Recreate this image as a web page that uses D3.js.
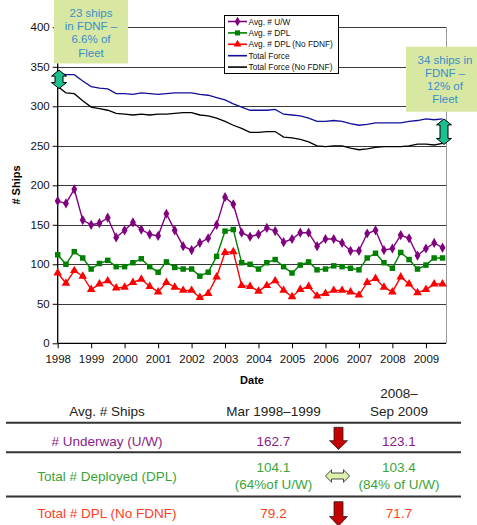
<!DOCTYPE html>
<html>
<head>
<meta charset="utf-8">
<script src="https://cdn.jsdelivr.net/npm/d3@7"></script>
<style>
  body { margin: 0; background: #fff; }
  svg { display: block; font-family: "Liberation Sans", Arial, sans-serif; }
</style>
</head>
<body>
<svg id="chart" width="477" height="525"></svg>
<script>
// ---------- DATA ----------
const dates = [
  "1998-01","1998-04","1998-07","1998-10","1999-01","1999-04","1999-07","1999-10",
  "2000-01","2000-04","2000-07","2000-10","2001-01","2001-04","2001-07","2001-10",
  "2002-01","2002-04","2002-07","2002-10","2003-01","2003-04","2003-07","2003-10",
  "2004-01","2004-04","2004-07","2004-10","2005-01","2005-04","2005-07","2005-10",
  "2006-01","2006-04","2006-07","2006-10","2007-01","2007-04","2007-07","2007-10",
  "2008-01","2008-04","2008-07","2008-10","2009-01","2009-04","2009-07"
];
const avgUW = [180,177,195,156,150,152,159,134,143,153,144,138,136,164,143,123,
  118,127,133,150,185,176,140,135,138,146,142,128,132,140,140,123,
  132,132,127,117,117,139,143,118,120,137,133,111,120,127,121];
const avgDPL = [112,100,116,108,94,101,105,97,97,102,107,97,90,103,96,94,
  94,85,90,110,142,144,102,100,94,102,106,97,89,99,103,93,
  94,98,97,95,93,108,114,102,95,115,106,94,99,108,108];
const avgDPLNoFDNF = [89,76,92,85,68,75,79,70,71,77,81,72,65,77,71,67,
  67,58,63,84,115,116,73,72,66,73,79,67,59,68,72,60,
  63,67,67,65,61,77,82,71,65,84,75,64,68,75,75];
const totalForce = [342,340,340,332,325,323,322,316,316,315,317,316,315,316,317,317,
  317,315,314,311,308,303,299,295,295,295,296,290,289,288,285,281,
  281,282,281,278,276,277,279,279,279,279,281,282,284,283,284];
const totalForceNoFDNF = [325,317,316,307,299,297,295,291,290,289,290,289,290,290,291,292,
  292,289,288,285,281,276,272,267,267,268,268,261,260,258,255,250,
  249,250,250,247,245,246,248,249,249,249,250,252,252,251,253];
const yTicks = [0,50,100,150,200,250,300,350,400];
const seriesNames = ["Avg. # U/W","Avg. # DPL","Avg. # DPL (No FDNF)","Total Force","Total Force (No FDNF)"];
const leftNote = ["23 ships","in FDNF \u2013","6.6% of","Fleet"];
const rightNote = ["34 ships in","FDNF \u2013","12% of","Fleet"];
const tableHeader = ["Avg. # Ships","Mar 1998\u20131999","2008\u2013","Sep 2009"];
const tableRows = [
  {label:"# Underway (U/W)", a:["162.7"], b:["123.1"], change:"down"},
  {label:"Total # Deployed (DPL)", a:["104.1","(64%of U/W)"], b:["103.4","(84% of U/W)"], change:"same"},
  {label:"Total # DPL (No FDNF)", a:["79.2"], b:["71.7"], change:"down"}
];

// ---------- SETUP ----------
const svg = d3.select("#chart");
const parse = d3.timeParse("%Y-%m");
const dts = dates.map(parse);
const x = d3.scaleTime().domain([new Date(1998,0,1), new Date(2009,7,8)]).range([57.7, 446]);
const y = d3.scaleLinear().domain([0,400]).range([343.3, 27.3]);
const colors = { uw:"#800080", dpl:"#008000", dplNo:"#ff0000", tf:"#10109a", tfNo:"#000000" };

// gridlines
svg.append("g").selectAll("line").data(yTicks.filter(d=>d>0)).join("line")
  .attr("x1", x.range()[0]).attr("x2", x.range()[1])
  .attr("y1", d=>Math.round(y(d))+0.5).attr("y2", d=>Math.round(y(d))+0.5)
  .attr("stroke", "#3a3a3a").attr("stroke-width", 1);
// right border
svg.append("line").attr("x1", x.range()[1]+0.5).attr("x2", x.range()[1]+0.5)
  .attr("y1", y(400)).attr("y2", y(0)).attr("stroke", "#999");

// axes
const yAxis = svg.append("g").attr("transform", `translate(${x.range()[0]},0)`)
  .call(d3.axisLeft(y).tickValues(yTicks).tickSize(5).tickPadding(3));
const xAxis = svg.append("g").attr("transform", `translate(0,${y(0)})`)
  .call(d3.axisBottom(x).ticks(d3.timeYear.every(1)).tickFormat(d3.timeFormat("%Y")).tickSize(5).tickPadding(7));
[yAxis, xAxis].forEach(g => {
  g.selectAll("path.domain").attr("stroke", "#000").attr("stroke-width", 1.3);
  g.selectAll(".tick line").attr("stroke", "#000");
  g.selectAll("text").attr("font-size", 11.5).attr("fill", "#111")
    .attr("font-family", "Liberation Sans, Arial, sans-serif");
});
xAxis.select("path.domain").attr("d", `M${x.range()[0]},0H${x.range()[1]}`);
yAxis.select("path.domain").attr("d", `M0,${y(0)}V${y(400)}`);

// axis titles
svg.append("text").attr("x", 252).attr("y", 384).attr("text-anchor","middle")
  .attr("font-size", 11).attr("font-weight","bold").text("Date");
svg.append("text").attr("transform","translate(20,185) rotate(-90)").attr("text-anchor","middle")
  .attr("font-size", 11).attr("font-weight","bold").text("# Ships");

// lines
const line = vals => d3.line().x((d,i)=>x(dts[i])).y(d=>y(d))(vals);
svg.append("path").attr("d", line(totalForce)).attr("fill","none").attr("stroke", colors.tf).attr("stroke-width",1.3);
svg.append("path").attr("d", line(totalForceNoFDNF)).attr("fill","none").attr("stroke", colors.tfNo).attr("stroke-width",1.3);

function markerSeries(vals, color, sym, size) {
  svg.append("path").attr("d", line(vals)).attr("fill","none").attr("stroke", color).attr("stroke-width",1.4);
  svg.append("g").selectAll("path").data(vals).join("path")
    .attr("transform", (d,i)=>`translate(${x(dts[i])},${y(d)})`)
    .attr("d", d3.symbol().type(sym).size(size)).attr("fill", color);
}
markerSeries(avgUW, colors.uw, d3.symbolDiamond, 30);
markerSeries(avgDPL, colors.dpl, d3.symbolSquare, 30);
markerSeries(avgDPLNoFDNF, colors.dplNo, d3.symbolTriangle, 32);

// legend
const lg = svg.append("g");
lg.append("rect").attr("x",224.5).attr("y",15.5).attr("width",114).attr("height",58)
  .attr("fill","#fff").attr("stroke","#000");
const legendItems = [
  {c:colors.uw, s:d3.symbolDiamond}, {c:colors.dpl, s:d3.symbolSquare},
  {c:colors.dplNo, s:d3.symbolTriangle}, {c:colors.tf, s:null}, {c:colors.tfNo, s:null}
];
legendItems.forEach((it,i) => {
  const yy = 21.5 + i*11.4;
  lg.append("line").attr("x1",228).attr("x2",247).attr("y1",yy).attr("y2",yy)
    .attr("stroke",it.c).attr("stroke-width",1.6);
  if (it.s) lg.append("path").attr("transform",`translate(237.5,${yy})`)
    .attr("d", d3.symbol().type(it.s).size(26)).attr("fill", it.c);
  lg.append("text").attr("x",248.5).attr("y",yy+3).attr("font-size",8.3).attr("fill","#111")
    .text(seriesNames[i]);
});

// annotation boxes
function noteBox(x0, y0, w, h, cx, lines, y1) {
  svg.append("rect").attr("x",x0).attr("y",y0).attr("width",w).attr("height",h).attr("fill","#d8e7a2");
  lines.forEach((t,i)=> svg.append("text").attr("x",cx).attr("y",y1 + i*13.3)
    .attr("text-anchor","middle").attr("font-size",11.5).attr("fill","#3a8fc8").text(t));
}
noteBox(54, 0, 74, 63.5, 91, leftNote, 16.8);
noteBox(406, 46.7, 80, 65, 445, rightNote, 63.5);

// double vertical arrows
function vArrow(cx, yTop, yBot) {
  const hw = 7.5, sw = 4, hh = 6;
  const p = `M${cx},${yTop} L${cx+hw},${yTop+hh} L${cx+sw},${yTop+hh} L${cx+sw},${yBot-hh} L${cx+hw},${yBot-hh}
    L${cx},${yBot} L${cx-hw},${yBot-hh} L${cx-sw},${yBot-hh} L${cx-sw},${yTop+hh} L${cx-hw},${yTop+hh} Z`;
  svg.append("path").attr("d",p).attr("fill","#1cc08e").attr("stroke","#000").attr("stroke-width",1);
}
vArrow(59, y(totalForce[0])-3, y(totalForceNoFDNF[0])+2);
vArrow(444, y(totalForce[totalForce.length-1]), y(totalForceNoFDNF[totalForceNoFDNF.length-1])+1);

// ---------- TABLE ----------
const colX = [107, 273.5, 399];
const tfont = 13.5;
svg.append("text").attr("x",colX[0]).attr("y",415.5).attr("text-anchor","middle").attr("font-size",tfont).attr("fill","#222").text(tableHeader[0]);
svg.append("text").attr("x",colX[1]).attr("y",415.5).attr("text-anchor","middle").attr("font-size",tfont).attr("fill","#222").text(tableHeader[1]);
svg.append("text").attr("x",colX[2]).attr("y",398).attr("text-anchor","middle").attr("font-size",tfont).attr("fill","#222").text(tableHeader[2]);
svg.append("text").attr("x",colX[2]).attr("y",415.5).attr("text-anchor","middle").attr("font-size",tfont).attr("fill","#222").text(tableHeader[3]);

[422.7, 452.3, 496.5].forEach(yy => svg.append("line").attr("x1",6).attr("x2",461)
  .attr("y1",yy).attr("y2",yy).attr("stroke","#333").attr("stroke-width",2));

const rowColors = ["#8a1c8a", "#3aa53a", "#ff3c1c"];
const rowCenters = [440.7, 475.7, 513.3];
tableRows.forEach((r,i) => {
  const cy = rowCenters[i];
  svg.append("text").attr("x",colX[0]).attr("y",cy+4.8).attr("text-anchor","middle")
    .attr("font-size",tfont).attr("fill",rowColors[i]).text(r.label);
  [r.a, r.b].forEach((vals,j) => {
    const start = cy + 4.8 - (vals.length-1)*8.3;
    vals.forEach((v,k) => svg.append("text").attr("x",colX[j+1]).attr("y",start + k*16.6)
      .attr("text-anchor","middle").attr("font-size",tfont).attr("fill",rowColors[i]).text(v));
  });
});

function downArrow(cx, yTop, yHead, yTip) {
  const p = `M${cx-4.5},${yTop} L${cx+4.5},${yTop} L${cx+4.5},${yHead} L${cx+9},${yHead} L${cx},${yTip}
    L${cx-9},${yHead} L${cx-4.5},${yHead} Z`;
  svg.append("path").attr("d",p).attr("fill","#c40000").attr("stroke","#222").attr("stroke-width",0.8);
}
downArrow(338.5, 427.3, 440.7, 449.5);
downArrow(338.5, 501.7, 516.5, 526);

// horizontal double arrow
(function(){
  const x0 = 325.5, x1 = 349.5, cy = 476, hw = 6.3, sw = 3, hl = 6;
  const p = `M${x0},${cy} L${x0+hl},${cy-hw} L${x0+hl},${cy-sw} L${x1-hl},${cy-sw} L${x1-hl},${cy-hw}
    L${x1},${cy} L${x1-hl},${cy+hw} L${x1-hl},${cy+sw} L${x0+hl},${cy+sw} L${x0+hl},${cy+hw} Z`;
  svg.append("path").attr("d",p).attr("fill","#def0ad").attr("stroke","#222").attr("stroke-width",0.8);
})();
</script>
</body>
</html>
